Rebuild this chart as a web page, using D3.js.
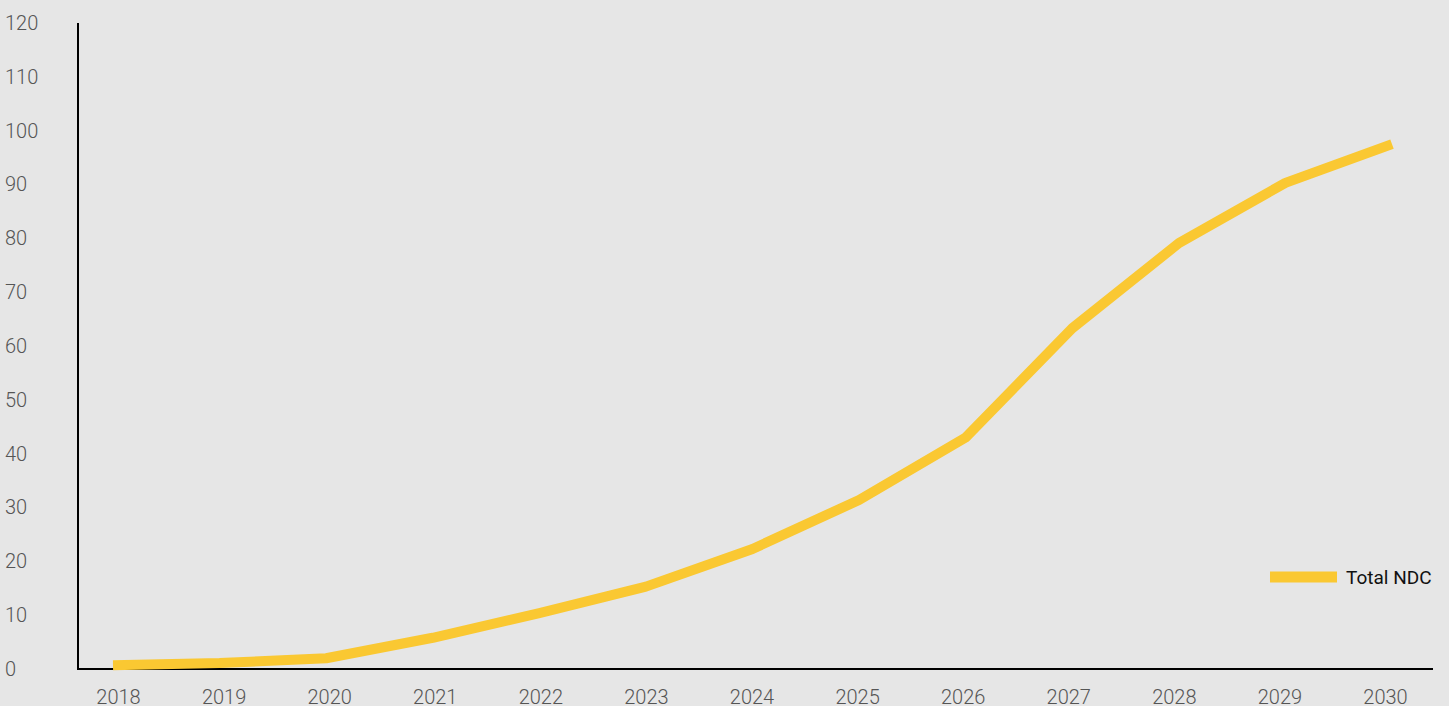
<!DOCTYPE html>
<html>
<head>
<meta charset="utf-8">
<script src="https://cdn.jsdelivr.net/npm/d3@7"></script>
<style>
  body { margin: 0; background: #e6e6e6; }
  svg { display: block; }
  .tick text { font-family: Roboto, "Liberation Sans", sans-serif; font-weight: 300; }
</style>
</head>
<body>
<div id="chart"></div>
<script>
// data
const years = ["2018", "2019", "2020", "2021", "2022", "2023", "2024", "2025", "2026", "2027", "2028", "2029", "2030"];
const totalNDC = [0.7, 1.1, 2.0, 5.8, 10.4, 15.3, 22.3, 31.4, 43.0, 63.3, 79.1, 90.3, 97.5];
const yTicks = [0, 10, 20, 30, 40, 50, 60, 70, 80, 90, 100, 110, 120];

function main() {
    const width = 1449;
    const height = 706;

    const svg = d3.select("#chart").append("svg")
        .attr("width", width)
        .attr("height", height)

    svg.append("rect")
        .attr("width", width)
        .attr("height", height)
        .attr("fill", "#e6e6e6")

    const x = d3.scalePoint()
        .domain(years)
        .range([113, 1392])

    // category labels sit on a slightly narrower spread than the line points
    const xLabel = d3.scalePoint()
        .domain(years)
        .range([118, 1385])

    const y = d3.scaleLinear()
        .domain([0, 120])
        .range([669, 23])

    // y tick labels (no axis ticks, labels sit at the far left)
    const yAxis = svg.append("g")
        .attr("transform", "translate(5,0)")
        .call(d3.axisRight(y).tickValues(yTicks).tickSize(0).tickPadding(0))
    yAxis.select(".domain").remove()
    yAxis.selectAll("text")
        .attr("font-size", 20)
        .attr("fill", "#555")

    // x tick labels
    const xAxis = svg.append("g")
        .attr("transform", "translate(0,690)")
        .call(d3.axisBottom(xLabel).tickSize(0).tickPadding(0))
    xAxis.select(".domain").remove()
    xAxis.selectAll("text")
        .attr("font-size", 20)
        .attr("fill", "#555")

    // axis lines
    svg.append("line")
        .attr("x1", 78).attr("x2", 78)
        .attr("y1", y(120)).attr("y2", y(0) + 1)
        .attr("stroke", "#000")
        .attr("stroke-width", 2)

    svg.append("line")
        .attr("x1", 77).attr("x2", 1433)
        .attr("y1", y(0)).attr("y2", y(0))
        .attr("stroke", "#000")
        .attr("stroke-width", 2)

    const line = d3.line()
        .x((d, i) => x(years[i]))
        .y(d => y(d))

    svg.append("path")
        .datum(totalNDC)
        .attr("d", line)
        .attr("fill", "none")
        .attr("stroke", "#fac832")
        .attr("stroke-width", 10)
        .attr("stroke-linejoin", "round")

    // legend
    const legend = svg.append("g")
        .attr("transform", "translate(1270,577)")

    legend.append("line")
        .attr("x1", 0).attr("x2", 67)
        .attr("stroke", "#fac832")
        .attr("stroke-width", 11)

    legend.append("text")
        .attr("x", 76)
        .attr("dy", "0.35em")
        .attr("font-family", "Roboto, 'Liberation Sans', sans-serif")
        .attr("font-size", 19)
        .attr("fill", "#111")
        .text("Total NDC")
}
main();
</script>
</body>
</html>
